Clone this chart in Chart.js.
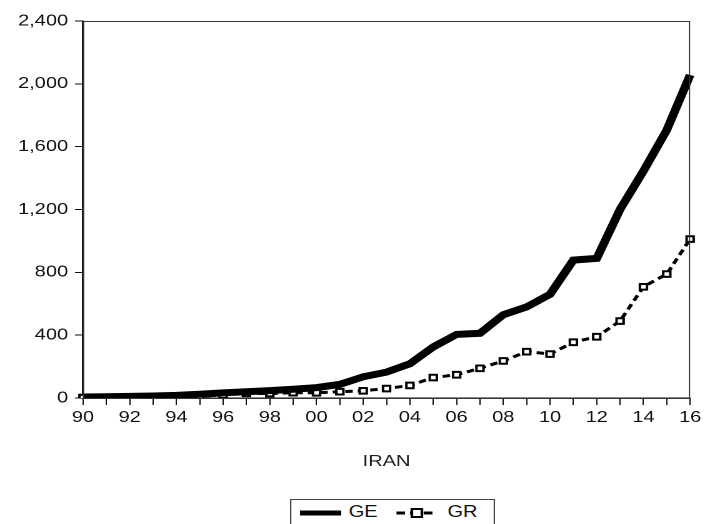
<!DOCTYPE html>
<html>
<head>
<meta charset="utf-8">
<script src="https://cdn.jsdelivr.net/npm/chart.js@4.4.1/dist/chart.umd.min.js"></script>
<style>
  html, body { margin: 0; padding: 0; background: #fff; overflow: hidden; }
  /* the original graph is horizontally stretched, so draw narrow and widen */
  #wrap { position: relative; width: 564px; height: 524px; transform: scaleX(1.25); transform-origin: 0 0; }
  #legend {
    position: absolute; left: 232px; top: 499px; width: 162px; height: 30px;
    border: 1px solid #444; background: #fff;
    font-family: "Liberation Sans", Arial, sans-serif; font-size: 16px; color: #111;
  }
  #legend svg, #legend span { position: absolute; }
</style>
</head>
<body>
<div id="wrap">
  <canvas id="chart" width="564" height="524"></canvas>
  <div id="legend">
    <svg style="left:7px;top:8px" width="33" height="10"><line x1="0" y1="5" x2="33" y2="5" stroke="#000" stroke-width="5"/></svg>
    <span style="left:46px;top:3px">GE</span>
    <svg style="left:84px;top:6px" width="33" height="14">
      <line x1="0" y1="7" x2="33" y2="7" stroke="#000" stroke-width="3" stroke-dasharray="7,4"/>
      <rect x="12.5" y="3" width="8" height="8" fill="#fff" stroke="#000" stroke-width="2"/>
    </svg>
    <span style="left:125px;top:3px">GR</span>
  </div>
</div>
<script>
/* Iran – GE vs GR, 1990–2016 */
const years = ['90','91','92','93','94','95','96','97','98','99','00','01','02',
               '03','04','05','06','07','08','09','10','11','12','13','14','15','16'];
const geValues = [6, 8, 10, 13, 17, 24, 33, 40, 47, 56, 66, 87, 135,
                  165, 218, 325, 405, 412, 530, 580, 660, 878, 889, 1201, 1445, 1706, 2056];
const grValues = [3, 3, 4, 5, 7, 12, 19, 30, 28, 34, 33, 40, 46,
                  60, 80, 130, 148, 189, 236, 295, 280, 355, 390, 490, 708, 789, 1012];
const yTicks = [0, 400, 800, 1200, 1600, 2000, 2400];

const ink = '#111';
const tickFont = { family: '"Liberation Sans", Arial, sans-serif', size: 16 };

// thin frame around the plot area
const frame = {
    id: 'frame',
    afterDraw(chart) {
        const { ctx, chartArea: a } = chart;
        ctx.save();
        ctx.strokeStyle = '#333';
        ctx.lineWidth = 1;
        ctx.strokeRect(a.left + 0.5, a.top + 0.5, a.right - a.left - 1, a.bottom - a.top);
        ctx.restore();
    },
};

new Chart(document.getElementById('chart'), {
    type: 'line',
    data: {
        labels: years,
        datasets: [
            {
                label: 'GE',
                data: geValues,
                borderColor: '#000',
                borderWidth: 7,
                pointRadius: 0,
                tension: 0,
                borderJoinStyle: 'miter',
            },
            {
                label: 'GR',
                data: grValues,
                borderColor: '#000',
                borderWidth: 3,
                borderDash: [6, 4],
                pointStyle: 'rect',
                pointRadius: 4,
                pointBorderWidth: 2,
                pointBorderColor: '#000',
                pointBackgroundColor: '#fff',
                tension: 0,
            },
        ],
    },
    options: {
        responsive: false,
        animation: false,
        devicePixelRatio: 2,
        layout: { padding: { left: 0, top: 21, right: 9.6, bottom: 0 } },
        plugins: { legend: { display: false }, tooltip: { enabled: false } },
        scales: {
            x: {
                type: 'category',
                offset: false,
                grid: { drawOnChartArea: false, drawTicks: true, tickLength: 7, color: ink, tickWidth: 1 },
                border: { display: true, color: ink, width: 1.5 },
                ticks: {
                    color: ink, font: tickFont, padding: 3,
                    autoSkip: false, maxRotation: 0,
                    callback: (v, i) => (i % 2 === 0 ? years[i] : ''),
                },
                title: {
                    display: true, text: 'IRAN', color: '#222',
                    font: { family: '"Liberation Sans", Arial, sans-serif', size: 16 },
                    padding: { top: 0, bottom: 53 },
                },
                afterFit: s => { s.height = 126; },
            },
            y: {
                min: 0,
                max: 2400,
                grid: { drawOnChartArea: false, drawTicks: true, tickLength: 6.4, color: ink },
                border: { display: true, color: ink, width: 1.5 },
                afterBuildTicks: s => { s.ticks = yTicks.map(v => ({ value: v })); },
                ticks: {
                    color: ink, font: tickFont, padding: 5.5,
                    callback: v => Number(v).toLocaleString('en-US'),
                },
                afterFit: s => { s.width = 66.4; },
            },
        },
    },
    plugins: [frame],
});
</script>
</body>
</html>
